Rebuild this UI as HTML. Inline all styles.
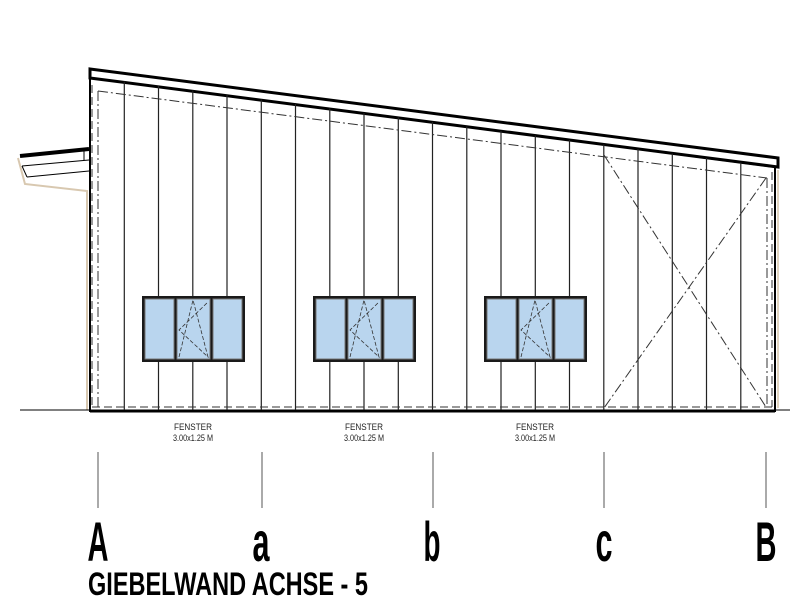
<!DOCTYPE html>
<html><head><meta charset="utf-8"><style>html,body{margin:0;padding:0;background:#fff}svg{display:block}</style></head>
<body>
<svg width="800" height="600" viewBox="0 0 800 600" xmlns="http://www.w3.org/2000/svg" font-family="Liberation Sans, sans-serif">
<rect width="800" height="600" fill="#fff"/>
<path d="M18 158 L25 184 L87 191 L87 410" fill="none" stroke="#d8c8b0" stroke-width="2"/>
<line x1="20" y1="156" x2="89" y2="149" stroke="#000" stroke-width="4"/>
<line x1="22" y1="166" x2="89" y2="160" stroke="#000" stroke-width="1"/>
<line x1="27" y1="177" x2="89" y2="171" stroke="#000" stroke-width="1"/>
<line x1="22" y1="166" x2="27" y2="177" stroke="#000" stroke-width="1"/>
<line x1="84" y1="150" x2="84" y2="160" stroke="#000" stroke-width="1"/>
<line x1="20" y1="410" x2="90" y2="410" stroke="#000" stroke-width="1"/>
<line x1="775" y1="410" x2="790" y2="410" stroke="#000" stroke-width="1"/>
<line x1="778" y1="170" x2="778" y2="408" stroke="#e0d4c0" stroke-width="2"/>
<polygon points="90,77 775,167 775,411 90,411" fill="#fff" stroke="#000" stroke-width="2"/>
<line x1="90" y1="411" x2="775" y2="411" stroke="#000" stroke-width="3"/>
<polygon points="90,69 778,158 778,167 90,78" fill="#fff" stroke="#000" stroke-width="3"/>
<g stroke="#222" stroke-width="1.2">
<line x1="124.3" y1="81.5" x2="124.3" y2="410"/><line x1="158.5" y1="86" x2="158.5" y2="410"/>
<line x1="192.8" y1="90.5" x2="192.8" y2="410"/><line x1="227" y1="95" x2="227" y2="410"/>
<line x1="261.3" y1="99.5" x2="261.3" y2="410"/><line x1="295.5" y1="104" x2="295.5" y2="410"/>
<line x1="329.8" y1="108.5" x2="329.8" y2="410"/><line x1="364" y1="113" x2="364" y2="410"/>
<line x1="398.3" y1="117.5" x2="398.3" y2="410"/><line x1="432.5" y1="122" x2="432.5" y2="410"/>
<line x1="466.8" y1="126.5" x2="466.8" y2="410"/><line x1="501" y1="131" x2="501" y2="410"/>
<line x1="535.3" y1="135.5" x2="535.3" y2="410"/><line x1="569.5" y1="140" x2="569.5" y2="410"/>
<line x1="603.8" y1="144.5" x2="603.8" y2="410"/><line x1="638" y1="149" x2="638" y2="410"/>
<line x1="672.3" y1="153.5" x2="672.3" y2="410"/><line x1="706.5" y1="158" x2="706.5" y2="410"/>
<line x1="740.8" y1="162.5" x2="740.8" y2="410"/>
</g>
<g fill="none" stroke="#333" stroke-width="1" stroke-dasharray="10,3,2,3">
<line x1="98" y1="91" x2="767" y2="178"/>
<line x1="98" y1="91" x2="98" y2="407"/>
<line x1="767" y1="178" x2="767" y2="407"/>
<line x1="604" y1="155" x2="766" y2="407"/>
<line x1="766" y1="178" x2="604" y2="408"/>
</g>
<g stroke="#333" stroke-width="1" stroke-dasharray="8,4">
<line x1="92" y1="407" x2="772" y2="407"/>
<line x1="92" y1="85" x2="92" y2="407"/>
<line x1="772" y1="172" x2="772" y2="407"/>
</g>
<g id="w">
<rect x="142" y="296" width="103" height="66" fill="#1a1a1a"/>
<rect x="145" y="299" width="29" height="60" fill="#b9d5ee" stroke="#777" stroke-width="1"/>
<rect x="177" y="299" width="33" height="60" fill="#b9d5ee" stroke="#777" stroke-width="1"/>
<rect x="213" y="299" width="29" height="60" fill="#b9d5ee" stroke="#777" stroke-width="1"/>
<path d="M179 357 L193 300 L208 357 L179 330 L208 302" fill="none" stroke="#333" stroke-width="0.8" stroke-dasharray="4,2"/>
</g>
<use href="#w" x="171"/><use href="#w" x="342"/>
<g font-size="9" text-anchor="middle" fill="#222">
<text x="193" y="430" textLength="38" lengthAdjust="spacingAndGlyphs">FENSTER</text>
<text x="193" y="441" textLength="40" lengthAdjust="spacingAndGlyphs">3.00x1.25 M</text>
<text x="364" y="430" textLength="38" lengthAdjust="spacingAndGlyphs">FENSTER</text>
<text x="364" y="441" textLength="40" lengthAdjust="spacingAndGlyphs">3.00x1.25 M</text>
<text x="535" y="430" textLength="38" lengthAdjust="spacingAndGlyphs">FENSTER</text>
<text x="535" y="441" textLength="40" lengthAdjust="spacingAndGlyphs">3.00x1.25 M</text>
</g>
<g stroke="#555" stroke-width="1">
<line x1="98" y1="452" x2="98" y2="508"/><line x1="262" y1="452" x2="262" y2="508"/>
<line x1="433" y1="452" x2="433" y2="508"/><line x1="604" y1="452" x2="604" y2="508"/>
<line x1="766" y1="452" x2="766" y2="508"/>
</g>
<g font-size="56" text-anchor="middle" fill="#000" font-weight="bold">
<text x="98" y="561" textLength="21" lengthAdjust="spacingAndGlyphs">A</text>
<text x="261" y="561" textLength="17" lengthAdjust="spacingAndGlyphs">a</text>
<text x="432" y="561" textLength="17" lengthAdjust="spacingAndGlyphs">b</text>
<text x="604" y="561" textLength="17" lengthAdjust="spacingAndGlyphs">c</text>
<text x="766" y="561" textLength="21" lengthAdjust="spacingAndGlyphs">B</text>
</g>
<text x="88" y="595" font-size="32" font-weight="bold" fill="#000" textLength="280" lengthAdjust="spacingAndGlyphs">GIEBELWAND ACHSE - 5</text>
</svg>
</body></html>
